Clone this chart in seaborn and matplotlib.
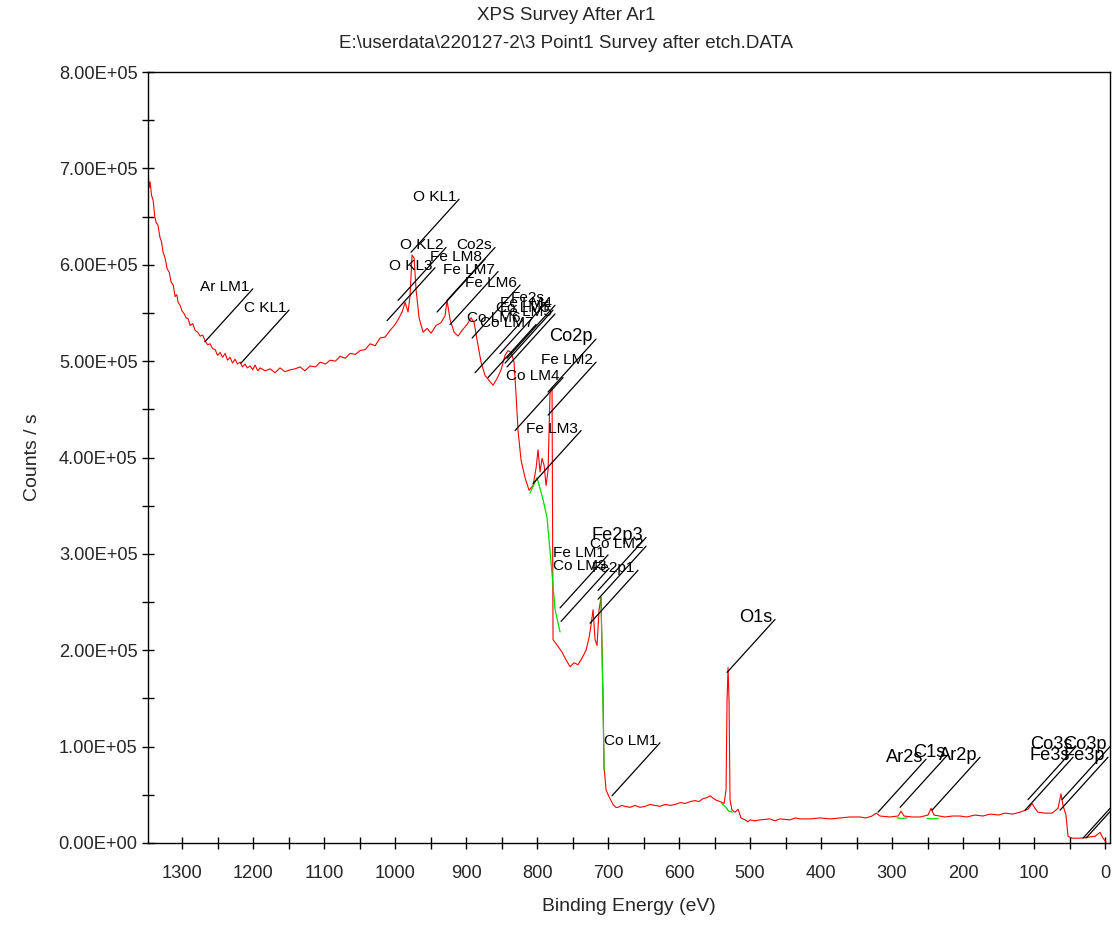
import numpy as np
import pandas as pd
import matplotlib
matplotlib.use('Agg')
import matplotlib.pyplot as plt
from matplotlib import font_manager
from matplotlib.ticker import MultipleLocator, FuncFormatter
import seaborn as sns

# survey spectrum (binding energy in eV, counts/s)
be = [1347.9, 1346.5, 1345.1, 1343.0, 1340.8, 1338.5, 1336.6, 1334.0, 1331.0, 1329.0,
      1326.8, 1324.0, 1321.1, 1318.0, 1315.5, 1312.5, 1309.9, 1307.5, 1305.6, 1302.8,
      1300.0, 1297.0, 1294.4, 1291.5, 1288.7, 1285.0, 1281.7, 1278.0, 1274.6, 1271.0,
      1267.6, 1264.0, 1260.6, 1257.0, 1253.5, 1250.0, 1246.5, 1243.0, 1239.4, 1236.0,
      1232.4, 1229.0, 1225.4, 1222.0, 1218.3, 1215.0, 1211.3, 1208.0, 1204.2, 1200.5,
      1197.2, 1193.5, 1190.1, 1183.0, 1176.1, 1169.0, 1162.0, 1155.0, 1147.9, 1141.0,
      1133.8, 1127.0, 1119.7, 1112.0, 1105.6, 1098.0, 1091.5, 1084.0, 1077.5, 1070.0,
      1063.4, 1056.0, 1049.3, 1042.0, 1035.2, 1028.0, 1021.1, 1014.0, 1007.0, 1001.0,
      995.8, 990.1, 985.9, 981.7, 978.9, 976.1, 973.2, 970.4, 966.2, 960.6,
      954.9, 949.3, 942.3, 935.2, 929.6, 926.8, 922.5, 916.9, 911.3, 905.6,
      898.6, 893.0, 888.7, 884.5, 878.9, 873.2, 867.6, 862.0, 856.3, 850.7,
      845.1, 840.8, 836.6, 832.4, 829.6, 826.8, 822.5, 816.9, 811.3, 805.6,
      801.4, 798.6, 795.8, 793.0, 790.1, 787.3, 784.5, 781.7, 778.9, 777.5,
      770.4, 764.8, 759.2, 753.5, 747.9, 742.3, 736.6, 731.0, 726.8, 724.0,
      721.1, 718.3, 715.5, 712.7, 709.9, 707.0, 705.6, 702.8, 698.6, 693.0,
      689.0, 685.9, 681.0, 676.1, 669.0, 662.0, 655.0, 647.9, 641.0, 633.8,
      627.0, 619.7, 612.0, 605.6, 598.0, 591.5, 584.0, 577.5, 572.0, 566.2,
      561.0, 556.3, 549.3, 542.3, 536.6, 533.8, 532.4, 531.0, 529.6, 528.2,
      525.4, 521.1, 516.9, 512.7, 507.0, 503.0, 500.0, 493.0, 485.9, 472.0,
      465.0, 457.7, 444.0, 436.0, 429.6, 415.0, 401.4, 387.0, 373.2, 359.0,
      345.1, 337.0, 328.2, 322.5, 316.9, 302.8, 291.5, 287.3, 283.1, 271.8,
      260.6, 249.3, 245.1, 240.8, 225.4, 215.0, 204.2, 195.0, 183.1, 172.0,
      162.0, 150.0, 140.8, 130.0, 119.7, 108.5, 102.8, 98.6, 94.4, 84.5,
      74.6, 66.2, 62.0, 59.2, 55.0, 52.1, 46.5, 35.2, 24.0, 14.1,
      7.0, 2.8, -1.4]
counts = [698000, 680000, 686000, 672000, 667000, 650000, 644000, 641000, 628000, 624000,
          613000, 607000, 596000, 592000, 582000, 579000, 567000, 569000, 561000, 558000,
          552000, 549000, 545000, 544000, 537000, 539000, 532000, 530000, 526000, 527000,
          521000, 517000, 518000, 513000, 512000, 506000, 509000, 504000, 508000, 501000,
          504000, 498000, 502000, 497000, 499000, 494000, 497000, 493000, 495000, 491000,
          496000, 490000, 493000, 490000, 492000, 488000, 493000, 489000, 491000, 492000,
          494000, 490000, 495000, 494000, 499000, 497000, 501000, 500000, 505000, 503000,
          508000, 507000, 511000, 512000, 518000, 516000, 524000, 525000, 532000, 537000,
          543000, 551000, 561000, 551000, 568000, 610000, 607000, 574000, 545000, 530000,
          534000, 529000, 537000, 540000, 547000, 563000, 543000, 530000, 526000, 532000,
          538000, 545000, 540000, 522000, 499000, 485000, 480000, 475000, 482000, 491000,
          506000, 511000, 509000, 499000, 465000, 428000, 397000, 379000, 366000, 371000,
          389000, 408000, 385000, 399000, 392000, 371000, 387000, 468000, 472000, 211000,
          204000, 198000, 190000, 183000, 187000, 185000, 192000, 200000, 213000, 226000,
          242000, 211000, 205000, 242000, 255000, 148000, 79000, 55000, 48000, 40000,
          37000, 37000, 39000, 38000, 37000, 39000, 37000, 38000, 40000, 39000,
          38000, 40000, 39000, 40000, 42000, 41000, 43000, 44000, 43000, 46000,
          47000, 49000, 45000, 43000, 41000, 55000, 148000, 182000, 148000, 45000,
          34000, 32000, 35000, 26000, 24000, 22000, 24000, 23000, 24000, 25000,
          23000, 25000, 24000, 26000, 25000, 25000, 26000, 25000, 26000, 27000,
          27000, 26000, 28000, 31000, 28000, 27000, 28000, 33000, 28000, 27000,
          27000, 29000, 36000, 29000, 27000, 28000, 28000, 27000, 29000, 28000,
          30000, 29000, 31000, 30000, 32000, 35000, 41000, 36000, 32000, 31000,
          31000, 36000, 51000, 39000, 29000, 7000, 5000, 5000, 6000, 7000,
          11000, 5000, 1000]

# fitted backgrounds (green)
bg_be = [[810, 800, 791.5, 786, 779, 774.6, 767.6],
         [710, 707.5, 705.6],
         [540, 534, 530, 525],
         [293, 286, 279],
         [251, 243, 235]]
bg_counts = [[363000, 379000, 356000, 338000, 280000, 242000, 219000],
             [255000, 160000, 75000],
             [41000, 37000, 33000, 32000],
             [26000, 25500, 26000],
             [25500, 25000, 25500]]

# peak labels and where their leader lines start
peak_names = ['Ar LM1', 'C KL1', 'O KL1', 'O KL2', 'O KL3', 'Co2s', 'Fe LM8', 'Fe LM7',
              'Fe LM6', 'Fe2s', 'Fe LM4', 'Co LM5', 'Fe LM5', 'Co LM6', 'Co LM7',
              'Co2p', 'Fe LM2', 'Co LM4', 'Fe LM3', 'Fe LM1', 'Co LM3', 'Fe2p3',
              'Co LM2', 'Fe2p1', 'Co LM1', 'O1s', 'Ar2s', 'C1s', 'Ar2p',
              'Co3s', 'Fe3s', 'Co3p', 'Fe3p', 'O2s', 'Ar3p']
peak_be = [1268, 1217, 977.5, 995.8, 1011.3, 926.8, 940.8, 922.5,
           891.5, 852.1, 842.3, 845.1, 842.3, 887.3, 869.0,
           784.5, 784.5, 831.0, 805.6, 767.6, 766.2, 714.1,
           714.1, 725.4, 694.4, 532.4, 319.7, 288.7, 243.7,
           108.5, 112.7, 60.6, 63.4, 31.0, 26.8]
peak_counts = [520000, 498000, 613000, 563000, 542000, 563000, 551000, 538000,
               524000, 508000, 503000, 498000, 494000, 488000, 483000,
               468000, 444000, 428000, 373000, 244000, 230000, 262000,
               253000, 228000, 49000, 177000, 32000, 37000, 34000,
               45000, 34000, 45000, 34000, 5000, 5000]
major_peaks = ['Co2p', 'Fe2p3', 'O1s', 'Ar2s', 'C1s', 'Ar2p', 'Co3s', 'Fe3s', 'Co3p', 'Fe3p']
# labels of these two sit past the right edge, only their lines show
off_axis = ['O2s', 'Ar3p']

sns.set_style('ticks')
try:
    font_manager.findfont('Liberation Sans Narrow', fallback_to_default=False)
    font, k = 'Liberation Sans Narrow', 1.0
except ValueError:
    font, k = 'Liberation Sans', 0.82
plt.rcParams['font.family'] = [font, 'DejaVu Sans']

fig = plt.figure(figsize=(11.12, 9.3), dpi=100)
ax = fig.add_axes([0.1331, 0.09355, 0.8651, 0.829])

spec = pd.DataFrame({'be': be, 'counts': counts})
sns.lineplot(data=spec, x='be', y='counts', sort=False, estimator=None,
             color='#ff0000', lw=0.8, ax=ax)
for gb, gc in zip(bg_be, bg_counts):
    sns.lineplot(x=gb, y=gc, sort=False, estimator=None, color='#00dd00', lw=0.9, ax=ax)

for name, pb, pc in zip(peak_names, peak_be, peak_counts):
    size = 16 if name in major_peaks else 13.5
    line = ax.annotate('', xy=(pb, pc), xytext=(48, 53), textcoords='offset pixels',
                       arrowprops=dict(arrowstyle='-', color='black', lw=0.9,
                                       shrinkA=0, shrinkB=0))
    line.arrow_patch.set_clip_box(ax.bbox)
    if name in off_axis:
        continue
    ax.annotate(name, xy=(pb, pc), xytext=(45, 55), textcoords='offset pixels',
                ha='right', va='center', fontsize=size * k, color='black')

ax.set_xlim(1348, -7)
ax.set_ylim(0, 8e5)
ax.xaxis.set_major_locator(MultipleLocator(100))
ax.xaxis.set_minor_locator(MultipleLocator(50))
ax.yaxis.set_major_locator(MultipleLocator(1e5))
ax.yaxis.set_minor_locator(MultipleLocator(5e4))
ax.yaxis.set_major_formatter(FuncFormatter(lambda v, p: f'{v:.2E}'))
ax.tick_params(which='both', direction='inout', length=9, width=1, color='black')
ax.tick_params(axis='x', labelsize=16 * k, pad=11)
ax.tick_params(axis='y', labelsize=16 * k, pad=3)
for sp in ax.spines.values():
    sp.set_visible(True)
    sp.set_color('black')
    sp.set_linewidth(1)

ax.set_xlabel('Binding Energy (eV)', fontsize=17 * k, labelpad=12)
ax.set_ylabel('Counts / s', fontsize=17 * k, labelpad=13)

fig.text(0.509, 1 - 15 / 930, 'XPS Survey After Ar1', ha='center', va='center', fontsize=16.5 * k)
fig.text(0.509, 1 - 44 / 930, 'E:\\userdata\\220127-2\\3 Point1 Survey after etch.DATA',
         ha='center', va='center', fontsize=16.5 * k)

fig.savefig('out.png', dpi=100)
